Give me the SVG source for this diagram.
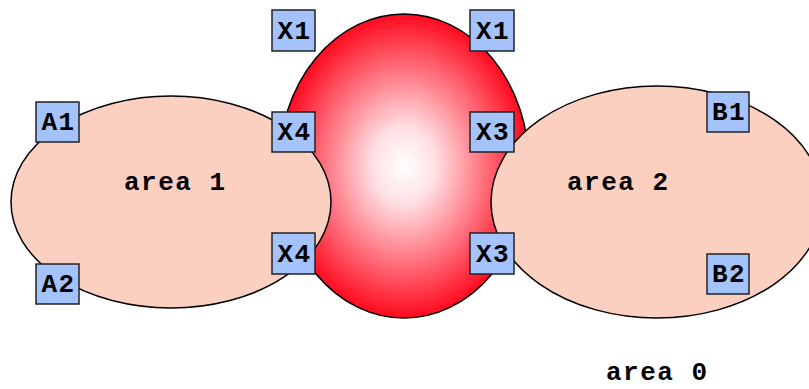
<svg xmlns="http://www.w3.org/2000/svg" width="809" height="389" viewBox="0 0 809 389">
  <defs>
    <radialGradient id="backboneFill" cx="0.5" cy="0.5" r="0.5">
      <stop offset="0" stop-color="#ffffff"/>
      <stop offset="0.25" stop-color="#ffe0e4"/>
      <stop offset="1" stop-color="#ff0a1e"/>
    </radialGradient>
    <style>
      .area { fill: #fbd0c0; stroke: #000; stroke-width: 1.5; }
      .backbone { fill: url(#backboneFill); stroke: #000; stroke-width: 1.5; }
      .router rect { fill: #a4c2fb; stroke: #222; stroke-width: 1.5; }
      text { font-family: "Liberation Mono", "Courier New", monospace; font-weight: bold; fill: #000; font-size: 26px; }
      .rlabel { text-anchor: middle; letter-spacing: 1.5px; }
      .alabel { letter-spacing: 1.5px; }
    </style>
  </defs>

  <!-- backbone (area 0) -->
  <g id="area0">
    <ellipse class="backbone" cx="404" cy="166" rx="125" ry="152"/>
    <text class="alabel" x="606" y="380">area 0</text>
  </g>

  <!-- stub areas -->
  <g id="area1">
    <ellipse class="area" cx="171" cy="202" rx="160" ry="106"/>
    <text class="alabel" x="124" y="190">area 1</text>
  </g>
  <g id="area2">
    <ellipse class="area" cx="657" cy="202" rx="166" ry="116"/>
    <text class="alabel" x="567" y="190">area 2</text>
  </g>

  <!-- routers -->
  <g id="x1-left" class="router">
    <rect x="272" y="10" width="43" height="41"/>
    <text class="rlabel" x="294.5" y="39">X1</text>
  </g>
  <g id="x1-right" class="router">
    <rect x="470" y="10" width="44" height="41"/>
    <text class="rlabel" x="493" y="39">X1</text>
  </g>
  <g id="x4-top" class="router">
    <rect x="272" y="112" width="43" height="40"/>
    <text class="rlabel" x="294.5" y="140">X4</text>
  </g>
  <g id="x3-top" class="router">
    <rect x="470" y="112" width="44" height="40"/>
    <text class="rlabel" x="493" y="140">X3</text>
  </g>
  <g id="x4-bottom" class="router">
    <rect x="272" y="233" width="43" height="41"/>
    <text class="rlabel" x="294.5" y="262">X4</text>
  </g>
  <g id="x3-bottom" class="router">
    <rect x="470" y="233" width="44" height="41"/>
    <text class="rlabel" x="493" y="262">X3</text>
  </g>
  <g id="a1" class="router">
    <rect x="36" y="102" width="43" height="40"/>
    <text class="rlabel" x="58.5" y="130">A1</text>
  </g>
  <g id="a2" class="router">
    <rect x="36" y="264" width="43" height="40"/>
    <text class="rlabel" x="58.5" y="292">A2</text>
  </g>
  <g id="b1" class="router">
    <rect x="707" y="92" width="42" height="40"/>
    <text class="rlabel" x="729" y="120">B1</text>
  </g>
  <g id="b2" class="router">
    <rect x="707" y="254" width="42" height="40"/>
    <text class="rlabel" x="729" y="282">B2</text>
  </g>
</svg>
